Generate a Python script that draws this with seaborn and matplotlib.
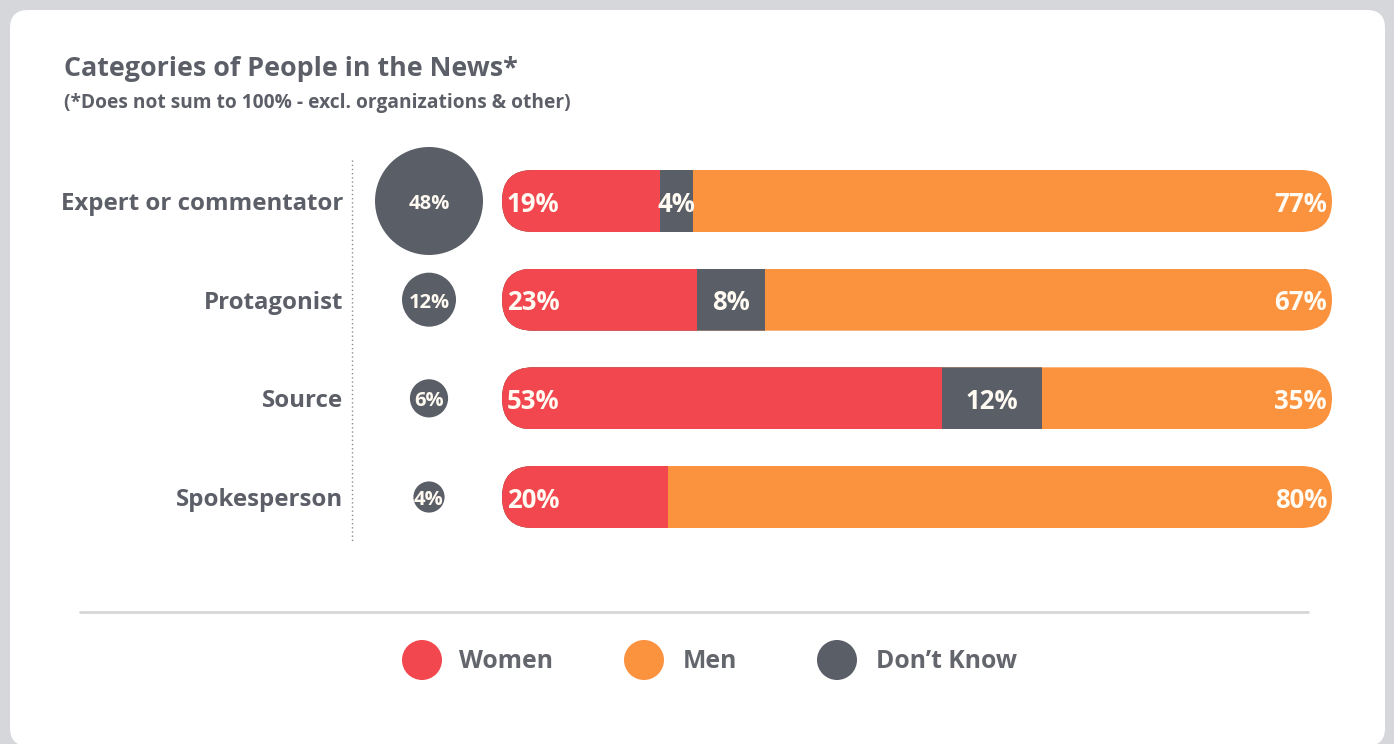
import numpy as np
import pandas as pd
import matplotlib
matplotlib.use("Agg")
import matplotlib.pyplot as plt
from matplotlib.patches import FancyBboxPatch, Circle
import seaborn as sns

# ---- data -------------------------------------------------------------
categories = ["Expert or commentator", "Protagonist", "Source", "Spokesperson"]
share_of_people = [48, 12, 6, 4]          # share of all people in the news
women = [19, 23, 53, 20]
dont_know = [4, 8, 12, 0]
men = [77, 67, 35, 80]
legend_labels = ["Women", "Men", "Don\u2019t Know"]
title = "Categories of People in the News*"
subtitle = "(*Does not sum to 100% - excl. organizations & other)"

# ---- style ------------------------------------------------------------
RED = "#f2474f"
ORANGE = "#fb923e"
GRAY = "#5a5e67"
TEXT = "#5c5f67"
LABEL = "#fffaf2"

sns.set_style("white")
plt.rcParams["font.family"] = ["Open Sans", "DejaVu Sans"]

W, H, DPI = 1394, 744, 100
fig = plt.figure(figsize=(W / DPI, H / DPI), dpi=DPI)
fig.patch.set_facecolor("#d5d7da")

# background canvas measured in pixels (y down)
bg = fig.add_axes([0, 0, 1, 1], zorder=0)
bg.set_xlim(0, W)
bg.set_ylim(H, 0)
bg.axis("off")
bg.add_patch(FancyBboxPatch((10, 10), 1375, 736,
                            boxstyle="round,pad=0,rounding_size=18",
                            fc="white", ec="none"))

bg.text(64, 69, title, ha="left", va="center", fontsize=19.4,
        fontweight="bold", color=TEXT)
bg.text(64, 103, subtitle, ha="left", va="center", fontsize=13.8,
        fontweight="bold", color=TEXT)

# divider between the category labels and the marks
bg.plot([352, 352], [160, 542], ls=(0, (1, 2)), color="#8c8c8c", lw=1)
# separator above the legend
bg.plot([80, 1308], [612, 612], color="#d5d6d8", lw=2)

# legend
legend_colors = [RED, ORANGE, GRAY]
legend_dot_x = [422, 644, 837]
legend_text_x = [459, 683, 876]
for lab, col, cx, tx in zip(legend_labels, legend_colors, legend_dot_x, legend_text_x):
    bg.add_patch(Circle((cx, 660), 20, fc=col, ec="none"))
    bg.text(tx, 662, lab, ha="left", va="center", fontsize=17.8,
            fontweight="bold", color="#64666d")

# ---- main chart axes --------------------------------------------------
BAR_L, BAR_R = 502, 1332          # pixel extent of a full (100%) bar
ROW0, ROW_STEP = 201, 98.67       # pixel centre of first row, row pitch
BAR_H = 62                        # bar thickness in pixels
AX_L, AX_R, AX_T, AX_B = 340, 1345, 130, 570
px_x = (BAR_R - BAR_L) / 100.0    # pixels per percentage point

ax = fig.add_axes([AX_L / W, 1 - AX_B / H, (AX_R - AX_L) / W, (AX_B - AX_T) / H],
                  zorder=1)
ax.set_facecolor("none")

df = pd.DataFrame({
    "category": categories,
    "row": np.arange(len(categories)),
    "share": share_of_people,
    "women": women,
    "dont_know": dont_know,
    "men": men,
})
total = df[["women", "dont_know", "men"]].sum(axis=1)
df["w_end"] = df["women"] / total * 100
df["dk_end"] = (df["women"] + df["dont_know"]) / total * 100
df["m_end"] = (df["women"] + df["dont_know"] + df["men"]) / total * 100

# stacked bars: draw the cumulative ends from longest to shortest
bar_w = BAR_H / ROW_STEP
for col, color in [("m_end", ORANGE), ("dk_end", GRAY), ("w_end", RED)]:
    sns.barplot(data=df, x=col, y="row", orient="h", native_scale=True,
                color=color, saturation=1, width=bar_w, errorbar=None,
                linewidth=0, ax=ax)

# rounded pill ends: clip each stacked row to a capsule
mut_aspect = (1 / ROW_STEP) / (1 / px_x)
radius = (BAR_H / 2) / px_x
for p in list(ax.patches):
    yc = p.get_y() + p.get_height() / 2
    capsule = FancyBboxPatch((0, yc - bar_w / 2), 100, bar_w,
                             boxstyle=f"round,pad=0,rounding_size={radius}",
                             mutation_aspect=mut_aspect, transform=ax.transData)
    p.set_clip_path(capsule)

# bubbles sized by share of people (area proportional to value)
CIRCLE_X = (429 - BAR_L) / px_x
df["circle_x"] = CIRCLE_X
max_d_pt = 108 * 72 / DPI
sns.scatterplot(data=df, x="circle_x", y="row", size="share",
                sizes=(0, max_d_pt ** 2), size_norm=(0, max(share_of_people)),
                color=GRAY, linewidth=0, legend=False, ax=ax, zorder=3)

pad = 5 / px_x
dy = 3 / ROW_STEP   # nudge text down so glyphs sit optically centred
for _, r in df.iterrows():
    y = r["row"] + dy
    ax.text(pad, y, f"{r['women']}%", ha="left", va="center", fontsize=18.5,
            fontweight="bold", color=LABEL, zorder=5)
    if r["dont_know"] > 0:
        ax.text((r["w_end"] + r["dk_end"]) / 2, y, f"{r['dont_know']}%",
                ha="center", va="center", fontsize=18.5, fontweight="bold",
                color=LABEL, zorder=5)
    ax.text(100 - pad, y, f"{r['men']}%", ha="right", va="center", fontsize=18.5,
            fontweight="bold", color=LABEL, zorder=5)
    ax.text(CIRCLE_X, y, f"{r['share']}%", ha="center", va="center",
            fontsize=14.5, fontweight="bold", color=LABEL, zorder=5)
    ax.text((343 - BAR_L) / px_x, y, r["category"], ha="right", va="center",
            fontsize=17.3, fontweight="bold", color=TEXT, zorder=5)

ax.set_xlim((AX_L - BAR_L) / px_x, (AX_R - BAR_L) / px_x)
ax.set_ylim((AX_B - ROW0) / ROW_STEP, (AX_T - ROW0) / ROW_STEP)
ax.axis("off")

fig.savefig("out.png", dpi=DPI, facecolor=fig.get_facecolor())
